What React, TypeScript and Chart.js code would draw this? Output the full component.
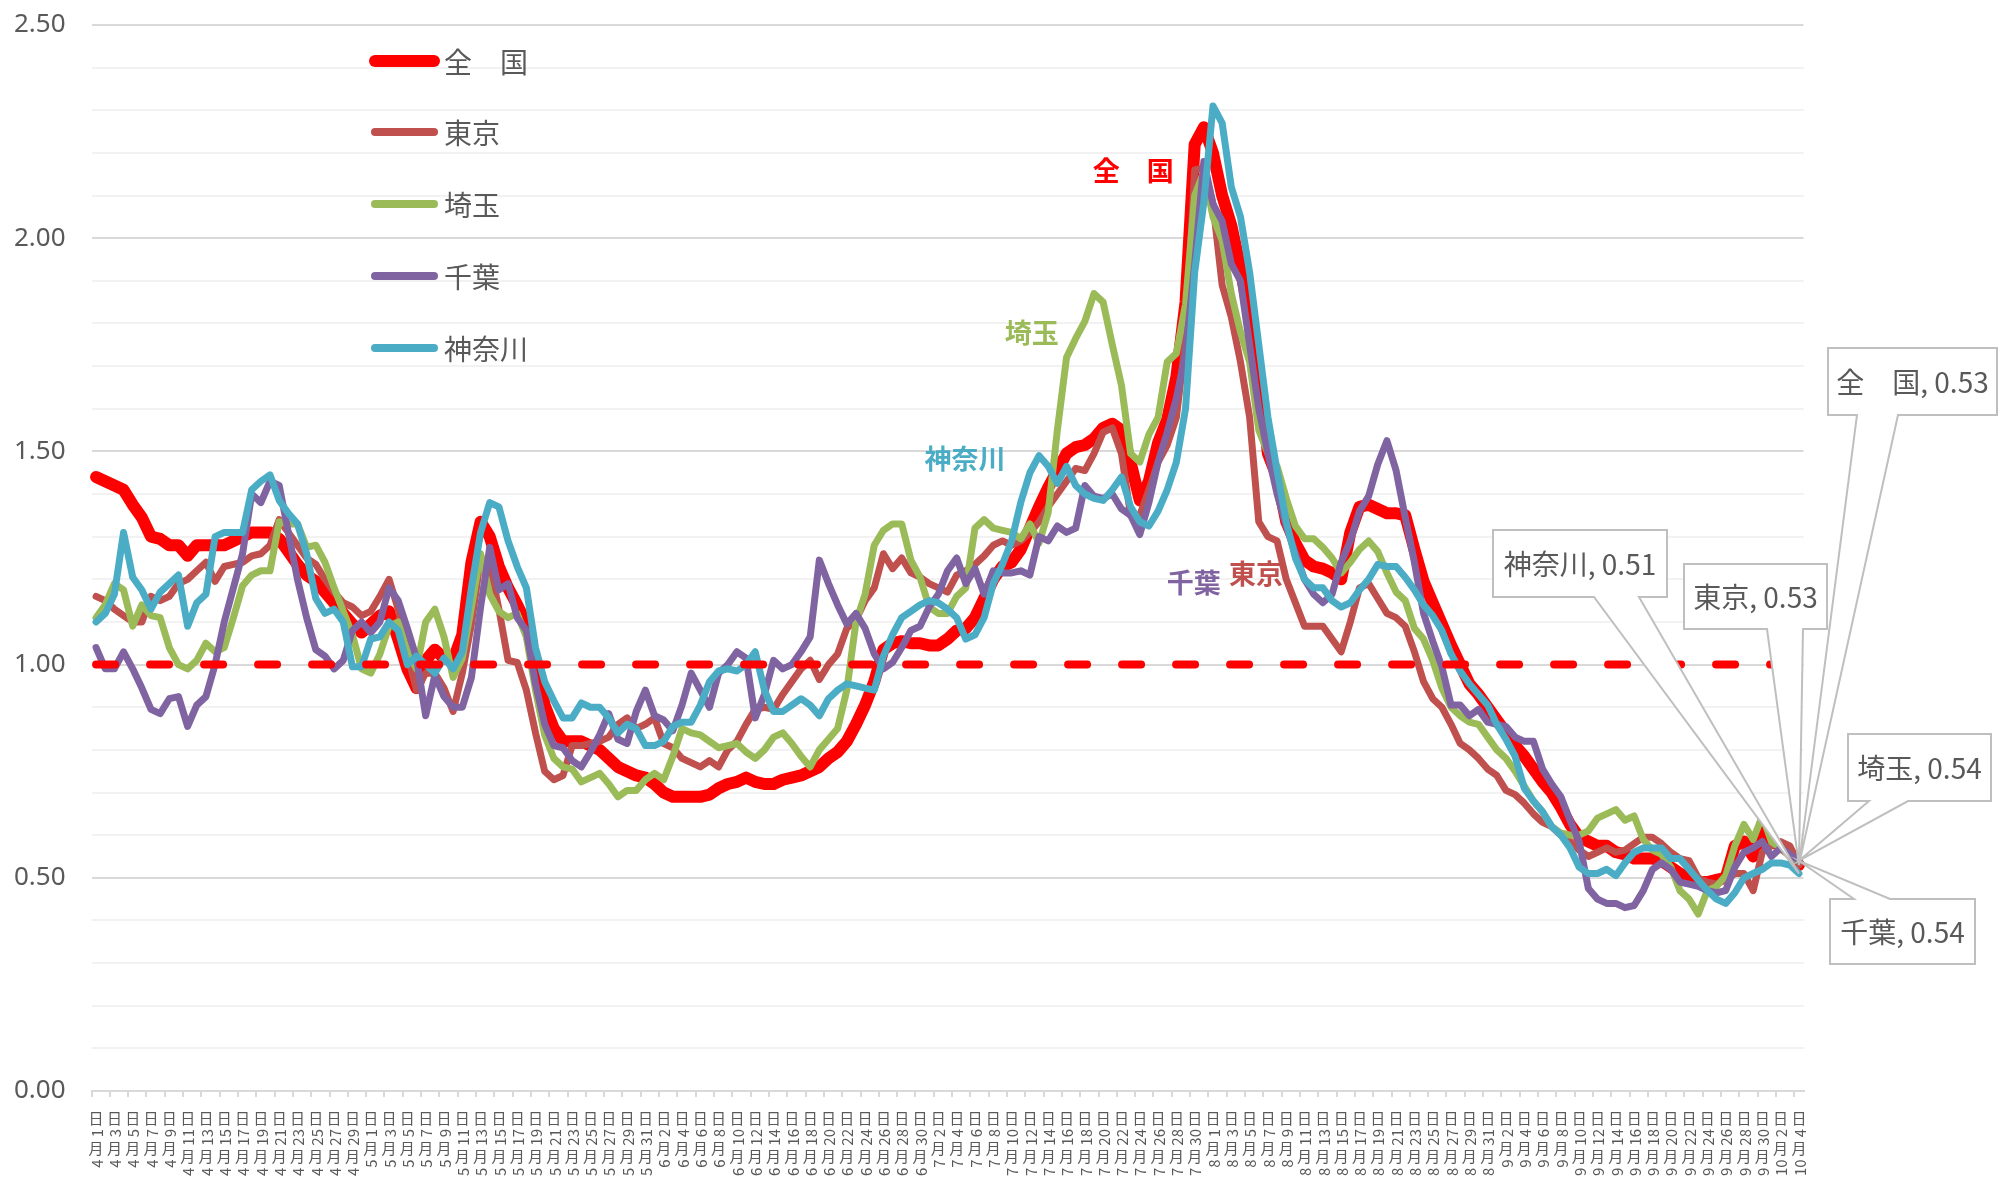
import React, { useEffect, useRef } from 'react';
import { Chart, registerables } from 'chart.js';

Chart.register(...registerables);

// ---- categories (4月1日 … 10月4日) ----
const MONTHS = [4, 5, 6, 7, 8, 9, 10];
const MONTH_DAYS = [30, 31, 30, 31, 31, 30, 4];
const categories: string[] = [];
MONTHS.forEach((m, k) => {
  for (let d = 1; d <= MONTH_DAYS[k]; d++) categories.push(`${m}月${d}日`);
});

// ---- series values ----
const zenkoku = [
  1.44, 1.43, 1.42, 1.41, 1.375, 1.345, 1.30, 1.295, 1.28, 1.28,
  1.255, 1.28, 1.28, 1.28, 1.28, 1.29, 1.30, 1.31, 1.31, 1.31,
  1.295, 1.265, 1.235, 1.21, 1.195, 1.17, 1.145, 1.12, 1.095, 1.075,
  1.095, 1.115, 1.125, 1.06, 0.99, 0.945, 1.01, 1.035, 1.015, 1.01,
  1.07, 1.24, 1.335, 1.30, 1.23, 1.18, 1.14,
  1.095, 1.00, 0.905, 0.85, 0.82, 0.82, 0.82, 0.81, 0.80, 0.78,
  0.76, 0.75, 0.74, 0.735, 0.72, 0.70, 0.69, 0.69, 0.69, 0.69,
  0.695, 0.71, 0.72, 0.725, 0.735, 0.725, 0.72, 0.72, 0.73, 0.735,
  0.74, 0.75, 0.76, 0.78, 0.795, 0.82, 0.86, 0.905, 0.96, 1.035,
  1.05, 1.055, 1.05, 1.05,
  1.045, 1.045, 1.06, 1.08, 1.085, 1.11, 1.155, 1.20, 1.23, 1.24,
  1.27, 1.32, 1.37, 1.415, 1.455, 1.495, 1.51, 1.515, 1.53, 1.555,
  1.565, 1.55, 1.475, 1.385, 1.43, 1.52, 1.575, 1.675, 1.85, 2.22,
  2.26, 2.20, 2.10, 2.03, 1.93, 1.815, 1.685, 1.495, 1.44, 1.335,
  1.285, 1.245, 1.23, 1.225, 1.215, 1.20, 1.31, 1.37,
  1.375, 1.365, 1.355, 1.355, 1.35, 1.27, 1.195, 1.145, 1.095, 1.045,
  1.00, 0.955, 0.93, 0.90, 0.87, 0.84, 0.81, 0.785, 0.755, 0.725,
  0.70, 0.665, 0.625, 0.595, 0.585, 0.575, 0.575, 0.56, 0.555, 0.545,
  0.545, 0.545, 0.54, 0.525, 0.51, 0.50, 0.49, 0.49, 0.495, 0.50,
  0.575, 0.585, 0.55, 0.61, 0.585, 0.575, 0.56, 0.53,
];

const tokyo = [
  1.16, 1.15, 1.13, 1.115, 1.10, 1.10, 1.16, 1.15, 1.16, 1.19,
  1.20, 1.22, 1.24, 1.195, 1.23, 1.235, 1.24, 1.255, 1.26, 1.28,
  1.34, 1.31, 1.28, 1.25, 1.235, 1.20, 1.17, 1.145, 1.135, 1.115,
  1.125, 1.16, 1.20, 1.13, 1.025, 0.94, 0.98, 0.98, 0.945, 0.89,
  0.98, 1.095, 1.25, 1.235, 1.13, 1.01, 1.005,
  0.94, 0.84, 0.75, 0.73, 0.74, 0.81, 0.81, 0.815, 0.82, 0.83,
  0.86, 0.875, 0.85, 0.86, 0.875, 0.815, 0.805, 0.78, 0.77, 0.76,
  0.775, 0.76, 0.80, 0.82, 0.86, 0.895, 0.90, 0.895, 0.93, 0.96,
  0.99, 1.01, 0.965, 1.00, 1.025, 1.085, 1.105, 1.15, 1.18, 1.26,
  1.225, 1.25, 1.215, 1.205,
  1.19, 1.18, 1.17, 1.21, 1.22, 1.235, 1.255, 1.28, 1.29, 1.28,
  1.29, 1.31, 1.335, 1.37, 1.40, 1.43, 1.46, 1.455, 1.495, 1.545,
  1.555, 1.495, 1.35, 1.35, 1.41, 1.475, 1.515, 1.58, 1.76, 2.16,
  2.165, 2.08, 1.89, 1.815, 1.71, 1.58, 1.335, 1.30, 1.29, 1.20,
  1.145, 1.09, 1.09, 1.09, 1.06, 1.03, 1.10, 1.18,
  1.19, 1.155, 1.12, 1.11, 1.09, 1.03, 0.96, 0.92, 0.90, 0.86,
  0.815, 0.80, 0.78, 0.755, 0.74, 0.705, 0.695, 0.675, 0.65, 0.63,
  0.62, 0.60, 0.585, 0.565, 0.55, 0.56, 0.57, 0.56, 0.565, 0.58,
  0.595, 0.595, 0.58, 0.56, 0.545, 0.54, 0.50, 0.49, 0.485, 0.495,
  0.51, 0.51, 0.47, 0.56, 0.575, 0.585, 0.575, 0.53,
];

const saitama = [
  1.11, 1.14, 1.19, 1.175, 1.09, 1.14, 1.115, 1.11, 1.04, 1.00,
  0.99, 1.01, 1.05, 1.03, 1.04, 1.11, 1.185, 1.21, 1.22, 1.22,
  1.335, 1.33, 1.33, 1.275, 1.28, 1.24, 1.18, 1.125, 1.07, 0.99,
  0.98, 1.025, 1.09, 1.10, 1.03, 0.99, 1.10, 1.13, 1.065, 0.97,
  1.015, 1.135, 1.26, 1.165, 1.125, 1.11, 1.12,
  1.065, 0.94, 0.835, 0.78, 0.76, 0.755, 0.725, 0.735, 0.745, 0.72,
  0.69, 0.705, 0.705, 0.73, 0.745, 0.73, 0.785, 0.85, 0.84, 0.835,
  0.82, 0.805, 0.81, 0.815, 0.795, 0.78, 0.80, 0.83, 0.84, 0.815,
  0.785, 0.76, 0.80, 0.825, 0.85, 0.94, 1.10, 1.165, 1.28, 1.315,
  1.33, 1.33, 1.245, 1.205,
  1.135, 1.12, 1.12, 1.16, 1.18, 1.32, 1.34, 1.32, 1.315, 1.31,
  1.295, 1.33, 1.285, 1.357, 1.55, 1.72, 1.765, 1.805, 1.87, 1.85,
  1.75, 1.655, 1.495, 1.475, 1.54, 1.58, 1.71, 1.73, 1.845, 2.10,
  2.155, 2.05, 1.995, 1.87, 1.78, 1.71, 1.55, 1.495, 1.465, 1.39,
  1.325, 1.295, 1.295, 1.275, 1.25, 1.215, 1.24, 1.27,
  1.29, 1.265, 1.215, 1.17, 1.15, 1.085, 1.06, 1.01, 0.945, 0.90,
  0.88, 0.865, 0.86, 0.83, 0.80, 0.78, 0.75, 0.715, 0.68, 0.655,
  0.62, 0.605, 0.60, 0.60, 0.61, 0.64, 0.65, 0.66, 0.635, 0.645,
  0.59, 0.565, 0.555, 0.525, 0.47, 0.45, 0.415, 0.47, 0.48, 0.505,
  0.575, 0.625, 0.59, 0.645, 0.585, 0.57, 0.55, 0.54,
];

const chiba = [
  1.04, 0.99, 0.99, 1.03, 0.99, 0.945, 0.895, 0.885, 0.92, 0.925,
  0.855, 0.905, 0.925, 1.00, 1.10, 1.18, 1.26, 1.40, 1.38, 1.43,
  1.42, 1.31, 1.20, 1.11, 1.035, 1.02, 0.99, 1.01, 1.08, 1.10,
  1.075, 1.10, 1.18, 1.15, 1.085, 1.015, 0.88, 0.975, 0.925, 0.90,
  0.90, 0.97, 1.135, 1.275, 1.175, 1.19, 1.11,
  1.08, 0.955, 0.86, 0.81, 0.805, 0.775, 0.76, 0.795, 0.835, 0.885,
  0.825, 0.815, 0.89, 0.94, 0.88, 0.87, 0.845, 0.905, 0.98, 0.94,
  0.90, 0.98, 1.00, 1.03, 1.015, 0.875, 0.93, 1.01, 0.99, 1.00,
  1.03, 1.065, 1.245, 1.19, 1.14, 1.095, 1.12, 1.085, 1.025, 0.99,
  1.005, 1.04, 1.08, 1.09,
  1.135, 1.165, 1.22, 1.25, 1.19, 1.225, 1.165, 1.22, 1.215, 1.215,
  1.22, 1.21, 1.30, 1.29, 1.325, 1.31, 1.32, 1.42, 1.395, 1.39,
  1.40, 1.365, 1.35, 1.305, 1.38, 1.475, 1.545, 1.625, 1.73, 1.94,
  2.18, 2.08, 2.04, 1.94, 1.90, 1.75, 1.60, 1.495, 1.40, 1.325,
  1.26, 1.20, 1.165, 1.145, 1.165, 1.24, 1.29, 1.36,
  1.395, 1.47, 1.525, 1.455, 1.345, 1.24, 1.12, 1.055, 0.995, 0.905,
  0.905, 0.88, 0.895, 0.865, 0.86, 0.855, 0.83, 0.82, 0.82, 0.755,
  0.72, 0.69, 0.635, 0.585, 0.475, 0.45, 0.44, 0.44, 0.43, 0.435,
  0.47, 0.52, 0.535, 0.52, 0.49, 0.485, 0.48, 0.47, 0.465, 0.47,
  0.525, 0.56, 0.57, 0.585, 0.55, 0.57, 0.555, 0.54,
];

const kanagawa = [
  1.10, 1.12, 1.165, 1.31, 1.205, 1.175, 1.13, 1.17, 1.19, 1.21,
  1.09, 1.145, 1.165, 1.30, 1.31, 1.31, 1.31, 1.41, 1.43, 1.445,
  1.385, 1.355, 1.33, 1.26, 1.155, 1.12, 1.13, 1.10, 0.995, 0.995,
  1.06, 1.065, 1.10, 1.08, 1.00, 1.02, 1.00, 0.98, 1.015, 0.99,
  1.03, 1.18, 1.31, 1.38, 1.37, 1.29, 1.23,
  1.18, 1.04, 0.96, 0.915, 0.875, 0.875, 0.91, 0.90, 0.90, 0.875,
  0.84, 0.86, 0.85, 0.81, 0.81, 0.82, 0.855, 0.865, 0.865, 0.905,
  0.96, 0.985, 0.99, 0.985, 1.00, 1.03, 0.94, 0.89, 0.89, 0.905,
  0.92, 0.905, 0.88, 0.92, 0.94, 0.955, 0.95, 0.945, 0.94, 1.02,
  1.07, 1.11, 1.125, 1.14,
  1.15, 1.145, 1.13, 1.11, 1.06, 1.07, 1.11, 1.19, 1.235, 1.29,
  1.38, 1.45, 1.49, 1.465, 1.425, 1.465, 1.42, 1.40, 1.39, 1.385,
  1.41, 1.44, 1.37, 1.335, 1.325, 1.36, 1.41, 1.475, 1.60, 1.92,
  2.085, 2.31, 2.27, 2.12, 2.05, 1.92, 1.75, 1.58, 1.455, 1.335,
  1.25, 1.20, 1.18, 1.18, 1.15, 1.135, 1.145, 1.175,
  1.20, 1.235, 1.23, 1.23, 1.205, 1.175, 1.14, 1.115, 1.08, 1.025,
  0.985, 0.955, 0.93, 0.905, 0.86, 0.825, 0.785, 0.71, 0.68, 0.655,
  0.62, 0.60, 0.57, 0.525, 0.51, 0.51, 0.52, 0.505, 0.535, 0.56,
  0.57, 0.57, 0.57, 0.545, 0.545, 0.52, 0.495, 0.47, 0.45, 0.44,
  0.465, 0.50, 0.51, 0.52, 0.535, 0.535, 0.53, 0.51,
];

const baseline = categories.map(() => 1.0);

const SERIES_LABELS = ['全　国', '東京', '埼玉', '千葉', '神奈川'];
const SERIES_COLORS = ['#FF0000', '#C0504D', '#9BBB59', '#8064A2', '#4BACC6'];
const SERIES_WIDTHS = [12, 7, 7, 7, 7];
const SERIES_DATA = [zenkoku, tokyo, saitama, chiba, kanagawa];

// in-chart series name labels: [category index, value] anchors
const NAME_ANCHORS: [number, number][] = [
  [113.3, 2.158],
  [126.7, 1.212],
  [102.2, 1.778],
  [119.9, 1.191],
  [94.9, 1.482],
];

// callout boxes (pixel layout): [left, top, right, bottom, base1, base2, side]
const CALLOUTS: [number, number, number, number, number, number, 'top' | 'bottom'][] = [
  [1828, 348, 1997, 415, 1857, 1898, 'bottom'],
  [1684, 564, 1827, 629, 1767, 1803, 'bottom'],
  [1848, 734, 1991, 801, 1869, 1908, 'bottom'],
  [1830, 899, 1975, 964, 1854, 1890, 'top'],
  [1493, 530, 1667, 597, 1594, 1639, 'bottom'],
];

const LEGEND_ROWS = [61, 132, 204, 276, 348];
const JP_FONT = '"Noto Sans CJK JP", "Noto Sans", sans-serif';
const TEXT_COLOR = '#595959';

const legendPlugin = {
  id: 'customLegend',
  afterDraw(chart: any) {
    const ctx = chart.ctx as CanvasRenderingContext2D;
    ctx.save();
    SERIES_LABELS.forEach((label, i) => {
      const y = LEGEND_ROWS[i];
      ctx.beginPath();
      ctx.strokeStyle = SERIES_COLORS[i];
      ctx.lineWidth = i === 0 ? 12 : 8;
      ctx.lineCap = 'round';
      ctx.moveTo(375, y);
      ctx.lineTo(434, y);
      ctx.stroke();
      ctx.fillStyle = TEXT_COLOR;
      ctx.font = `28px ${JP_FONT}`;
      ctx.textAlign = 'left';
      ctx.textBaseline = 'middle';
      ctx.fillText(label, 444, y + 1);
    });
    ctx.restore();
  },
};

// vertical (East-Asian style) category labels: CJK upright, digit runs rotated
const verticalLabelPlugin = {
  id: 'verticalLabels',
  afterDraw(chart: any) {
    const ctx = chart.ctx as CanvasRenderingContext2D;
    const xs = chart.scales.x;
    const top = chart.chartArea.bottom + 19;
    ctx.save();
    ctx.fillStyle = TEXT_COLOR;
    ctx.font = `15px ${JP_FONT}`;
    ctx.textAlign = 'center';
    ctx.textBaseline = 'middle';
    for (let idx = 0; idx < categories.length; idx += 2) {
      const x = xs.getPixelForValue(idx);
      const tokens = categories[idx].match(/\d+|\D/g) || [];
      let y = top;
      for (let k = tokens.length - 1; k >= 0; k--) {
        const tk = tokens[k];
        if (/\d/.test(tk)) {
          const w = ctx.measureText(tk).width;
          ctx.save();
          ctx.translate(x, y + 3 + w / 2);
          ctx.rotate(-Math.PI / 2);
          ctx.fillText(tk, 0, 1);
          ctx.restore();
          y += w + 6;
        } else {
          ctx.fillText(tk, x, y + 8);
          y += 16;
        }
      }
    }
    ctx.restore();
  },
};

const annotationPlugin = {
  id: 'annotations',
  afterDatasetsDraw(chart: any) {
    const ctx = chart.ctx as CanvasRenderingContext2D;
    const xs = chart.scales.x;
    const ys = chart.scales.y;
    ctx.save();
    SERIES_LABELS.forEach((label, i) => {
      const [ix, v] = NAME_ANCHORS[i];
      ctx.fillStyle = SERIES_COLORS[i];
      ctx.font = `bold 27px ${JP_FONT}`;
      ctx.textAlign = 'center';
      ctx.textBaseline = 'middle';
      ctx.fillText(label, xs.getPixelForValue(ix), ys.getPixelForValue(v));
    });
    SERIES_LABELS.forEach((label, i) => {
      const meta = chart.getDatasetMeta(i);
      const pt = meta.data[meta.data.length - 1];
      const data = SERIES_DATA[i];
      const val = data[data.length - 1];
      const [l, t, r, b, b1, b2, side] = CALLOUTS[i];
      ctx.beginPath();
      if (side === 'bottom') {
        ctx.moveTo(l, t);
        ctx.lineTo(r, t);
        ctx.lineTo(r, b);
        ctx.lineTo(b2, b);
        ctx.lineTo(pt.x, pt.y);
        ctx.lineTo(b1, b);
        ctx.lineTo(l, b);
      } else {
        ctx.moveTo(l, t);
        ctx.lineTo(b1, t);
        ctx.lineTo(pt.x, pt.y);
        ctx.lineTo(b2, t);
        ctx.lineTo(r, t);
        ctx.lineTo(r, b);
        ctx.lineTo(l, b);
      }
      ctx.closePath();
      ctx.fillStyle = '#FFFFFF';
      ctx.fill();
      ctx.strokeStyle = '#BFBFBF';
      ctx.lineWidth = 2;
      ctx.lineJoin = 'miter';
      ctx.stroke();
      ctx.fillStyle = TEXT_COLOR;
      ctx.font = `28px ${JP_FONT}`;
      ctx.textAlign = 'center';
      ctx.textBaseline = 'middle';
      ctx.fillText(`${label}, ${val.toFixed(2)}`, (l + r) / 2, (t + b) / 2 + 1);
    });
    ctx.restore();
  },
};

const isMajor = (v: number) => Math.abs(v * 2 - Math.round(v * 2)) < 1e-6;

export default function App() {
  const ref = useRef<HTMLCanvasElement | null>(null);

  useEffect(() => {
    document.body.style.margin = '0';
    const canvas = ref.current;
    if (!canvas) return;
    const datasets: any[] = SERIES_LABELS.map((label, i) => ({
      label,
      data: SERIES_DATA[i],
      borderColor: SERIES_COLORS[i],
      backgroundColor: SERIES_COLORS[i],
      borderWidth: SERIES_WIDTHS[i],
      pointRadius: 0,
      tension: 0,
      fill: false,
      borderJoinStyle: 'round',
      borderCapStyle: 'round',
      order: 5 - i,
    }));
    datasets.push({
      label: 'baseline',
      data: baseline,
      borderColor: '#FF0000',
      borderWidth: 8,
      borderDash: [19, 35],
      borderCapStyle: 'round',
      pointRadius: 0,
      fill: false,
      order: -1,
    });

    const chart = new Chart(canvas, {
      type: 'line',
      data: { labels: categories, datasets },
      options: {
        responsive: false,
        animation: false,
        devicePixelRatio: 1,
        layout: { padding: { top: 25, right: 194.5, left: 14, bottom: 0 } },
        plugins: {
          legend: { display: false },
          tooltip: { enabled: false },
        },
        scales: {
          x: {
            type: 'category',
            offset: true,
            afterFit: (scale: any) => {
              scale.height = 94;
            },
            grid: {
              offset: true,
              drawOnChartArea: false,
              drawTicks: true,
              tickLength: 6,
              lineWidth: 2,
              color: (c: any) => (typeof c.index === 'number' && c.index % 2 === 0 ? '#D9D9D9' : 'rgba(0,0,0,0)'),
            },
            border: { display: true, color: '#D9D9D9', width: 2 },
            ticks: {
              display: false,
              autoSkip: false,
            },
          },
          y: {
            min: 0,
            max: 2.5,
            afterFit: (scale: any) => {
              scale.width = 77.5;
            },
            grid: {
              drawTicks: false,
              lineWidth: 2,
              color: (c: any) => (c.tick && isMajor(c.tick.value) ? '#D9D9D9' : '#F2F2F2'),
            },
            border: { display: false },
            ticks: {
              stepSize: 0.1,
              autoSkip: false,
              padding: 8,
              crossAlign: 'far',
              color: TEXT_COLOR,
              font: { family: '"Noto Sans", sans-serif', size: 26 },
              callback: (v: any) => {
                const n = Number(v);
                return isMajor(n) ? (Math.round(n * 100) / 100).toFixed(2) : '';
              },
            },
          },
        },
      },
      plugins: [legendPlugin, verticalLabelPlugin, annotationPlugin],
    });
    return () => chart.destroy();
  }, []);

  return (
    <div style={{ width: 1998, height: 1185, background: '#FFFFFF' }}>
      <canvas ref={ref} width={1998} height={1185} style={{ display: 'block' }} />
    </div>
  );
}
